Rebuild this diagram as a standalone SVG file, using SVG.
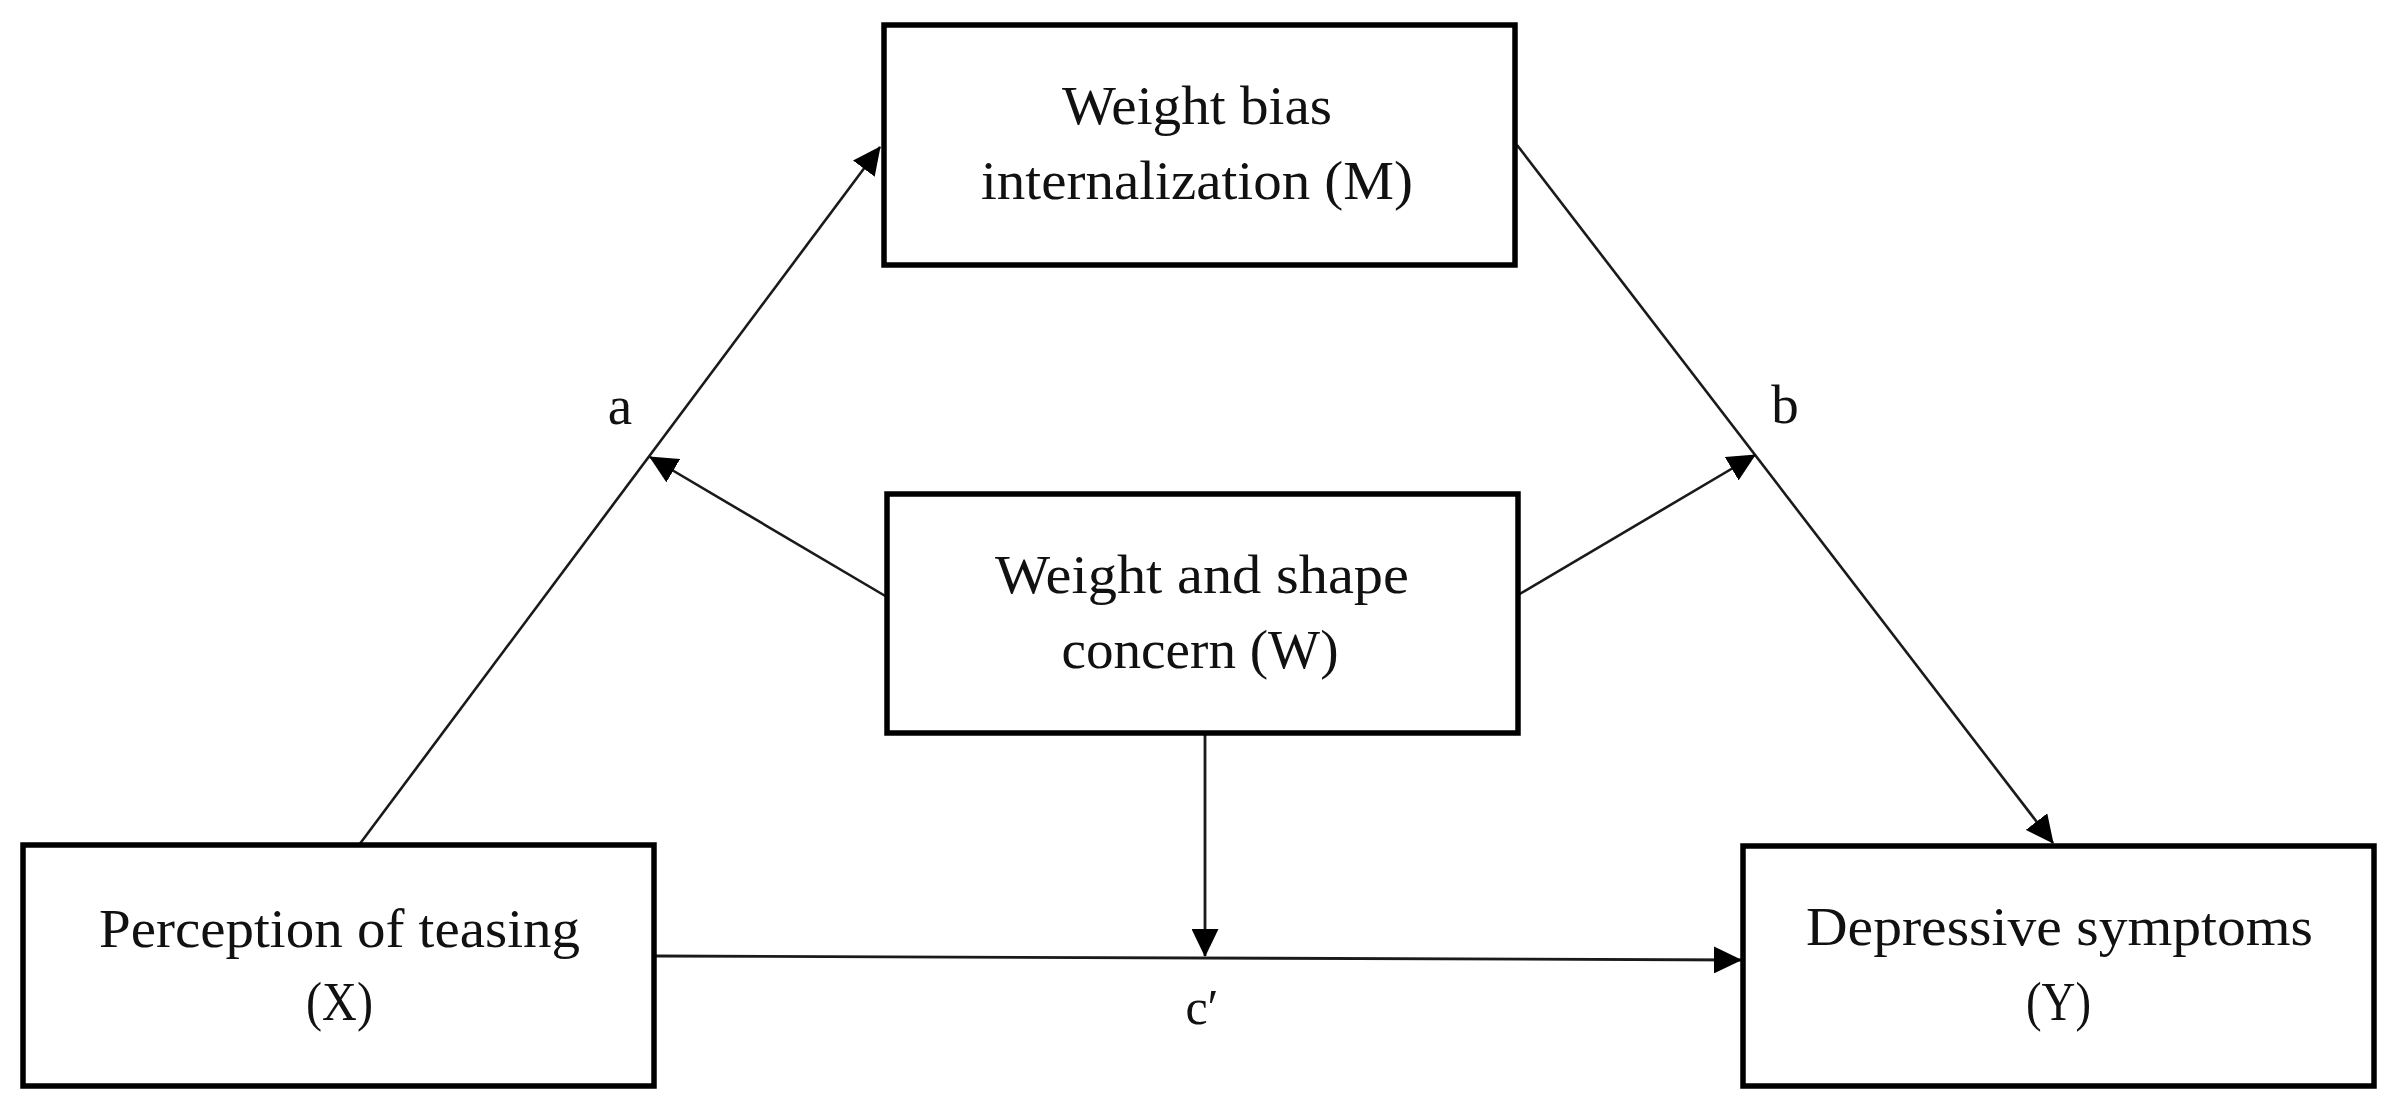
<svg xmlns="http://www.w3.org/2000/svg" width="2404" height="1105" viewBox="0 0 2404 1105">
<style>
.box{fill:#fff;stroke:#000;stroke-width:5.5}
.t{font-family:"Liberation Serif","DejaVu Serif",serif;font-size:55px;fill:#111;text-anchor:middle}
.c{fill:none;stroke:#1a1a1a}
</style>
<defs>
<marker id="ah" viewBox="0 0 28 27" refX="27" refY="13.5" markerWidth="28" markerHeight="27" markerUnits="userSpaceOnUse" orient="auto">
<path d="M0,0 L28,13.5 L0,27 Z" fill="#000"/>
</marker>
</defs>
<rect width="2404" height="1105" fill="#fff"/>
<g id="connectors">
<line class="c" stroke-width="2.6" x1="359" y1="845" x2="880" y2="147" marker-end="url(#ah)"/>
<line class="c" stroke-width="2.6" x1="1517" y1="145" x2="2053" y2="843" marker-end="url(#ah)"/>
<line class="c" stroke-width="2.6" x1="887" y1="597" x2="650" y2="457" marker-end="url(#ah)"/>
<line class="c" stroke-width="2.6" x1="1518" y1="595" x2="1755" y2="455" marker-end="url(#ah)"/>
<line class="c" stroke-width="2.8" x1="1205" y1="733" x2="1205" y2="956" marker-end="url(#ah)"/>
<line class="c" stroke-width="2.8" x1="656" y1="956" x2="1741" y2="960" marker-end="url(#ah)"/>
<text class="t" x="620" y="424">a</text>
<text class="t" x="1785" y="423">b</text>
<text class="t" x="1202" y="1024" style="font-size:50px">c′</text>
</g>
<g id="node-M">
<rect class="box" x="884" y="25" width="631" height="240"/>
<text class="t" x="1197" y="124" textLength="270" lengthAdjust="spacingAndGlyphs">Weight bias</text>
<text class="t" x="1197" y="199" textLength="432" lengthAdjust="spacingAndGlyphs">internalization (M)</text>
</g>
<g id="node-W">
<rect class="box" x="887" y="494" width="631" height="239"/>
<text class="t" x="1202" y="593" textLength="414" lengthAdjust="spacingAndGlyphs">Weight and shape</text>
<text class="t" x="1200" y="668" textLength="277" lengthAdjust="spacingAndGlyphs">concern (W)</text>
</g>
<g id="node-X">
<rect class="box" x="23" y="845" width="631" height="241"/>
<text class="t" x="339.5" y="947" textLength="481" lengthAdjust="spacingAndGlyphs">Perception of teasing</text>
<text class="t" x="339.5" y="1020" textLength="67" lengthAdjust="spacingAndGlyphs">(X)</text>
</g>
<g id="node-Y">
<rect class="box" x="1743" y="846" width="631" height="240"/>
<text class="t" x="2059.5" y="945" textLength="507" lengthAdjust="spacingAndGlyphs">Depressive symptoms</text>
<text class="t" x="2058.5" y="1020" textLength="65" lengthAdjust="spacingAndGlyphs">(Y)</text>
</g>
</svg>
